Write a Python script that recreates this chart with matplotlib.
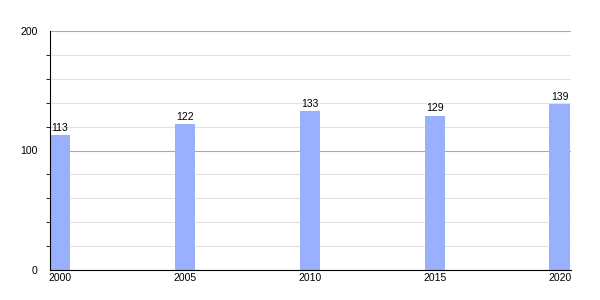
import matplotlib.pyplot as plt
from matplotlib.ticker import MultipleLocator

years = ['2000', '2005', '2010', '2015', '2020']
population = [113, 122, 133, 129, 139]

plt.rcParams['font.family'] = ['Liberation Sans', 'DejaVu Sans']

fig = plt.figure(figsize=(6, 3), dpi=100)
ax = fig.add_axes([50 / 600, 30 / 300, 521 / 600, 239 / 300])

x = list(range(len(years)))
bars = ax.bar(x, population, width=0.165, color='#99b0ff', zorder=3)
for xi, v in zip(x, population):
    ax.text(xi, v + 2, str(v), ha='center', va='bottom', fontsize=7.5, zorder=4)

ax.set_xlim(-0.08, 4.09)
ax.set_ylim(0, 200)
ax.set_xticks(x)
ax.set_xticklabels(years)
ax.yaxis.set_major_locator(MultipleLocator(100))
ax.yaxis.set_minor_locator(MultipleLocator(20))

ax.grid(axis='y', which='major', color='#aaaaaa', linewidth=0.8, zorder=1)
ax.grid(axis='y', which='minor', color='#e2e2e2', linewidth=0.8, zorder=1)

for s in ['top', 'right']:
    ax.spines[s].set_visible(False)
ax.spines['left'].set_color('black')
ax.spines['bottom'].set_color('black')
ax.spines['left'].set_zorder(5)
ax.spines['bottom'].set_zorder(5)

ax.tick_params(axis='y', which='major', length=0, labelsize=7.5, pad=9)
ax.tick_params(axis='y', which='minor', length=3)
ax.tick_params(axis='x', length=0, labelsize=7.5, pad=2)

fig.savefig('out.png', dpi=100)
